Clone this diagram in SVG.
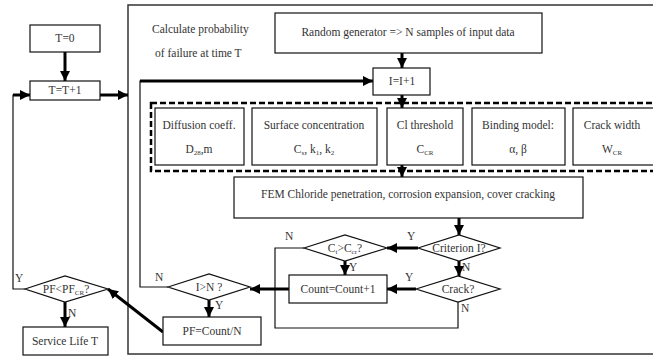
<svg xmlns="http://www.w3.org/2000/svg" width="653" height="357" viewBox="0 0 653 357" font-family="'Liberation Serif', 'Times New Roman', serif">
<defs>
<style>
.box{fill:#fff;stroke:#111;stroke-width:1.2}
.dia{fill:#fff;stroke:#111;stroke-width:1.2}
text{font-family:'Liberation Serif','Times New Roman',serif;font-size:11.5px;fill:#333}
.t{text-anchor:middle}
.thick{fill:none;stroke:#000;stroke-width:3}
.thin{fill:none;stroke:#111;stroke-width:1.2}
.sub{font-size:7px}
</style>
<marker id="ah" markerUnits="userSpaceOnUse" markerWidth="10" markerHeight="10" viewBox="0 0 10 10" refX="10" refY="5" orient="auto">
<path d="M0,0 L10,5 L0,10 Z" fill="#000"/>
</marker>
</defs>
<rect width="653" height="357" fill="#fff"/>

<g id="outer">
<rect x="128" y="5" width="540" height="349" fill="none" stroke="#333" stroke-width="1.5"/>
<text x="152" y="33">Calculate probability</text>
<text x="155" y="57">of failure at time T</text>
</g>

<g id="dashed-group">
<rect x="151" y="103" width="520" height="68" fill="none" stroke="#000" stroke-width="2.5" stroke-dasharray="6 3"/>
</g>

<g id="connectors">
<path class="thick" d="M65,52 V81" marker-end="url(#ah)"/>
<path class="thick" d="M100,95 H128" marker-end="url(#ah)"/>
<path class="thin" d="M25,289 H13 V95 H20"/>
<path class="thick" d="M13,95 H30" marker-end="url(#ah)"/>
<path class="thin" d="M168,287 H140 V81 H150"/>
<path class="thick" d="M140,81 H373" marker-end="url(#ah)"/>
<path class="thick" d="M402,53 V68" marker-end="url(#ah)"/>
<path class="thick" d="M402,95 V108" marker-end="url(#ah)"/>
<path class="thick" d="M402,165 V177" marker-end="url(#ah)"/>
<path class="thick" d="M459,218 V235" marker-end="url(#ah)"/>
<path class="thick" d="M459,261 V276" marker-end="url(#ah)"/>
<path class="thick" d="M418,248 H387" marker-end="url(#ah)"/>
<path class="thick" d="M345,261 V275" marker-end="url(#ah)"/>
<path class="thick" d="M416,289 H387" marker-end="url(#ah)"/>
<path class="thin" d="M458,302 V328 H275 V248 H304"/>
<path class="thick" d="M289,289 H250" marker-end="url(#ah)"/>
<path class="thick" d="M209,300 V317" marker-end="url(#ah)"/>
<path class="thick" d="M163,332 L108,289" marker-end="url(#ah)"/>
<path class="thick" d="M65,302 V327" marker-end="url(#ah)"/>
</g>

<g id="n-t0"><rect class="box" x="30" y="25" width="70" height="27"/><text class="t" x="65" y="42">T=0</text></g>
<g id="n-tt1"><rect class="box" x="30" y="81" width="70" height="19"/><text class="t" x="65" y="94">T=T+1</text></g>
<g id="n-random"><rect class="box" x="275" y="13" width="267" height="40"/><text class="t" x="408" y="36">Random generator =&gt; N samples of input data</text></g>
<g id="n-ii1"><rect class="box" x="373" y="68" width="57" height="27"/><text class="t" x="402" y="85">I=I+1</text></g>

<g id="n-diff"><rect class="box" x="155" y="108" width="89" height="57"/><text class="t" x="199" y="129">Diffusion coeff.</text><text class="t" x="199" y="153">D<tspan class="sub" dy="2">28</tspan><tspan dy="-2">,m</tspan></text></g>
<g id="n-surf"><rect class="box" x="252" y="108" width="125" height="57"/><text class="t" x="314" y="129">Surface concentration</text><text class="t" x="314" y="153">C<tspan class="sub" dy="2">s</tspan><tspan dy="-2">, k</tspan><tspan class="sub" dy="2">1</tspan><tspan dy="-2">, k</tspan><tspan class="sub" dy="2">2</tspan></text></g>
<g id="n-cl"><rect class="box" x="387" y="108" width="76" height="57"/><text class="t" x="425" y="129">Cl threshold</text><text class="t" x="425" y="153">C<tspan class="sub" dy="2">CR</tspan></text></g>
<g id="n-bind"><rect class="box" x="472" y="108" width="93" height="57"/><text class="t" x="518" y="129">Binding model:</text><text class="t" x="518" y="153">α, β</text></g>
<g id="n-crackw"><rect class="box" x="573" y="108" width="90" height="57"/><text class="t" x="612" y="129">Crack width</text><text class="t" x="612" y="153">W<tspan class="sub" dy="2">CR</tspan></text></g>

<g id="n-fem"><rect class="box" x="234" y="177" width="349" height="41"/><text class="t" x="408" y="198">FEM Chloride penetration, corrosion expansion, cover cracking</text></g>

<g id="n-crit"><polygon class="dia" points="418,248 459,235 500,248 459,261"/><text class="t" x="459" y="252">Criterion I?</text></g>
<g id="n-crack"><polygon class="dia" points="416,289 458,276 500,289 458,302"/><text class="t" x="458" y="293">Crack?</text></g>
<g id="n-ct"><polygon class="dia" points="304,248 345,235 387,248 345,261"/><text class="t" x="345" y="252">C<tspan class="sub" dy="2">t</tspan><tspan dy="-2">&gt;C</tspan><tspan class="sub" dy="2">cr</tspan><tspan dy="-2">?</tspan></text></g>
<g id="n-count"><rect class="box" x="289" y="275" width="98" height="28"/><text class="t" x="338" y="293">Count=Count+1</text></g>
<g id="n-in"><polygon class="dia" points="168,287 209,274 250,287 209,300"/><text class="t" x="209" y="291">I&gt;N ?</text></g>
<g id="n-pf"><rect class="box" x="163" y="317" width="98" height="28"/><text class="t" x="212" y="335">PF=Count/N</text></g>
<g id="n-pfcr"><polygon class="dia" points="25,289 65,276 108,289 65,302"/><text class="t" x="66" y="293">PF&lt;PF<tspan class="sub" dy="2">CR</tspan><tspan dy="-2">?</tspan></text></g>
<g id="n-life"><rect class="box" x="23" y="327" width="85" height="28"/><text class="t" x="65" y="345">Service Life T</text></g>

<g id="labels">
<text x="407" y="240">Y</text>
<text x="349" y="271">Y</text>
<text x="462" y="271">N</text>
<text x="405" y="281">Y</text>
<text x="461" y="312">N</text>
<text x="285" y="240">N</text>
<text x="155" y="281">N</text>
<text x="215" y="309">Y</text>
<text x="15" y="282">Y</text>
<text x="68" y="317">N</text>
</g>
</svg>
